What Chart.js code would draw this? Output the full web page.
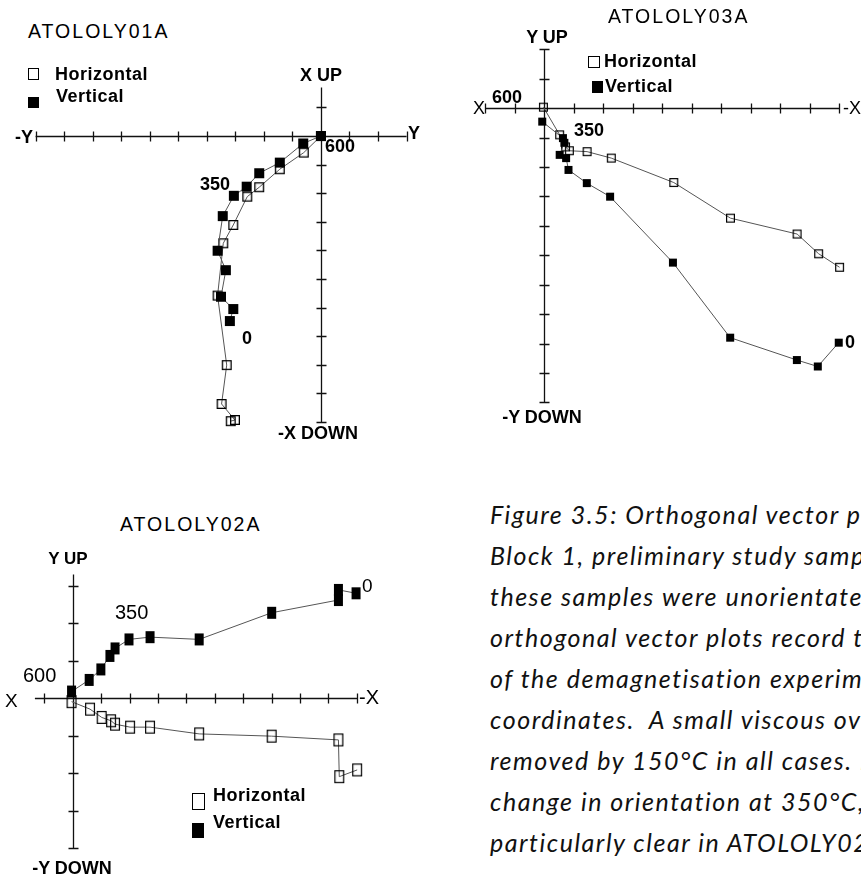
<!DOCTYPE html>
<html>
<head>
<meta charset="utf-8">
<script src="https://cdn.jsdelivr.net/npm/chart.js@4.4.0/dist/chart.umd.min.js"></script>
<style>
html,body{margin:0;padding:0;background:#fff;}
#page{position:relative;width:861px;height:875px;overflow:hidden;font-family:"Liberation Sans",Arial,sans-serif;color:#000;background:#fff;}
#page canvas{position:absolute;}
.t{position:absolute;white-space:nowrap;line-height:1;}
.box{position:absolute;box-sizing:border-box;}
#caption{position:absolute;left:490px;top:494px;font-family:Lato,sans-serif;font-style:italic;font-size:25px;line-height:41px;color:#111;white-space:nowrap;}
#probe{position:absolute;left:0;top:0;visibility:hidden;font-family:Lato,sans-serif;font-style:italic;font-size:25px;white-space:nowrap;letter-spacing:0;}
</style>
</head>
<body>
<div id="page">
  <canvas id="c1"></canvas>
  <canvas id="c2"></canvas>
  <canvas id="c3"></canvas>
  <div id="caption"></div>
  <span id="probe"></span>
</div>
<script>
// ---------------- DATA ----------------
// ATOLOLY01A (horizontal axis: -Y .. Y, vertical axis: X UP / -X DOWN), steps NRM(0) -> 600
const a01HorizX = [-3.16, -3.01, -3.48, -3.30, -3.62, -3.42, -3.07, -2.58, -2.16, -1.44, -0.60, 0];
const a01HorizY = [-9.97, -9.93, -9.37, -8.01, -5.58, -3.75, -3.11, -2.12, -1.79, -1.16, -0.58, 0];
const a01VertX  = [-3.19, -3.07, -3.50, -3.33, -3.62, -3.44, -3.05, -2.60, -2.16, -1.44, -0.62, 0];
const a01VertY  = [-6.47, -6.05, -5.62, -4.69, -4.01, -2.80, -2.09, -1.77, -1.30, -0.93, -0.26, 0];

// ATOLOLY03A (horizontal axis: X .. -X, vertical axis: Y UP / -Y DOWN)
const a03HorizX = [10.02, 9.31, 8.58, 6.32, 4.40, 2.28, 1.46, 0.86, 0.73, 0.53, -0.02];
const a03HorizY = [-5.41, -4.95, -4.28, -3.74, -2.53, -1.70, -1.48, -1.45, -1.32, -0.91, 0.03];
const a03VertX  = [9.99, 9.28, 8.57, 6.31, 4.37, 2.24, 1.45, 0.83, 0.75, 0.53, 0.69, 0.64, -0.06];
const a03VertY  = [-7.97, -8.78, -8.56, -7.80, -5.25, -3.01, -2.55, -2.10, -1.70, -1.59, -1.18, -1.02, -0.46];

// ATOLOLY02A (horizontal axis: X .. -X, vertical axis: Y UP / -Y DOWN)
const a02HorizX = [10.01, 9.38, 9.35, 7.00, 4.45, 2.72, 2.02, 1.49, 1.35, 1.02, 0.61, -0.04];
const a02HorizY = [-1.91, -2.09, -1.11, -1.01, -0.95, -0.77, -0.77, -0.69, -0.60, -0.51, -0.29, -0.09];
const a02VertX  = [9.97, 9.35, 9.35, 7.00, 4.45, 2.72, 1.98, 1.49, 1.31, 0.99, 0.58, -0.04];
const a02VertY  = [2.80, 2.89, 2.62, 2.28, 1.57, 1.63, 1.57, 1.33, 1.13, 0.77, 0.49, 0.18];

const seriesNames = ['Horizontal', 'Vertical'];
const stepLabels = ['0', '350', '600'];
const captionLines = [
  'Figure 3.5: Orthogonal vector plots',
  'Block 1, preliminary study samples',
  'these samples were unorientated',
  'orthogonal vector plots record the',
  'of the demagnetisation experiment',
  'coordinates.  A small viscous overprint',
  'removed by 150\u00B0C in all cases. Note',
  'change in orientation at 350\u00B0C,',
  'particularly clear in ATOLOLY02A'
];

// ---------------- HELPERS ----------------
const zip = (xs, ys) => xs.map((x, i) => ({x: x, y: ys[i]}));

function makeBox(w, h, filled, lw) {
  const pad = 2;
  const c = document.createElement('canvas');
  c.width = w + pad * 2; c.height = h + pad * 2;
  const g = c.getContext('2d');
  if (filled) {
    g.fillStyle = '#000';
    g.fillRect(pad, pad, w, h);
  } else {
    g.strokeStyle = '#000';
    g.lineWidth = lw;
    g.strokeRect(pad + lw / 2, pad + lw / 2, w - lw, h - lw);
  }
  return c;
}

const crossAxes = {
  id: 'crossAxes',
  beforeDatasetsDraw(chart, args, opts) {
    const ctx = chart.ctx, xs = chart.scales.x, ys = chart.scales.y;
    const x0 = Math.round(xs.getPixelForValue(0)) + 0.5;
    const y0 = Math.round(ys.getPixelForValue(0)) + 0.5;
    const tk = opts.tick;
    ctx.save();
    ctx.strokeStyle = opts.color;
    ctx.lineWidth = opts.width;
    ctx.beginPath();
    ctx.moveTo(xs.getPixelForValue(xs.min), y0);
    ctx.lineTo(xs.getPixelForValue(xs.max), y0);
    ctx.moveTo(x0, ys.getPixelForValue(ys.min));
    ctx.lineTo(x0, ys.getPixelForValue(ys.max));
    for (let v = Math.ceil(xs.min); v <= Math.floor(xs.max); v++) {
      if (v === 0) continue;
      const p = Math.round(xs.getPixelForValue(v)) + 0.5;
      ctx.moveTo(p, y0 - tk); ctx.lineTo(p, y0 + tk);
    }
    for (let v = Math.ceil(ys.min); v <= Math.floor(ys.max); v++) {
      if (v === 0) continue;
      const p = Math.round(ys.getPixelForValue(v)) + 0.5;
      ctx.moveTo(x0 - tk, p); ctx.lineTo(x0 + tk, p);
    }
    ctx.stroke();
    ctx.restore();
  }
};

function buildChart(id, plot, xr, yr, horiz, vert, hImg, vImg) {
  const cv = document.getElementById(id);
  const m = 22;
  const cl = Math.floor(plot.left - m), ct = Math.floor(plot.top - m);
  const cw = Math.ceil(plot.right + m) - cl, ch = Math.ceil(plot.bottom + m) - ct;
  cv.style.left = cl + 'px'; cv.style.top = ct + 'px';
  cv.width = cw; cv.height = ch;
  cv.style.width = cw + 'px'; cv.style.height = ch + 'px';
  return new Chart(cv, {
    type: 'scatter',
    data: {
      datasets: [
        {label: seriesNames[1], data: vert, showLine: true, borderColor: '#555', borderWidth: 1,
         pointStyle: vImg, pointRadius: 5, clip: false, order: 0},
        {label: seriesNames[0], data: horiz, showLine: true, borderColor: '#555', borderWidth: 1,
         pointStyle: hImg, pointRadius: 5, clip: false, order: 1}
      ]
    },
    options: {
      responsive: false, animation: false, devicePixelRatio: 1, events: [],
      layout: {padding: {left: plot.left - cl, right: cl + cw - plot.right, top: plot.top - ct, bottom: ct + ch - plot.bottom}},
      scales: {
        x: {type: 'linear', min: xr[0], max: xr[1], display: false},
        y: {type: 'linear', min: yr[0], max: yr[1], display: false}
      },
      plugins: {legend: {display: false}, tooltip: {enabled: false},
                crossAxes: {color: '#111', width: 1.3, tick: 5}}
    },
    plugins: [crossAxes]
  });
}

const page = document.getElementById('page');
function label(text, x, y, o) {
  o = o || {};
  const d = document.createElement('div');
  d.className = 't';
  d.textContent = text;
  d.style.left = x + 'px';
  d.style.top = y + 'px';
  d.style.fontSize = (o.size || 18) + 'px';
  d.style.fontWeight = o.bold === false ? 'normal' : 'bold';
  if (o.ls) d.style.letterSpacing = o.ls + 'px';
  const tx = o.align === 'center' ? '-50%' : (o.align === 'right' ? '-100%' : '0');
  d.style.transform = 'translate(' + tx + ',-50%)';
  page.appendChild(d);
}
function box(x, y, w, h, filled, bw) {
  const d = document.createElement('div');
  d.className = 'box';
  d.style.left = x + 'px'; d.style.top = y + 'px';
  d.style.width = w + 'px'; d.style.height = h + 'px';
  if (filled) d.style.background = '#000';
  else d.style.border = (bw || 1.3) + 'px solid #000';
  page.appendChild(d);
}

// ---------------- CHARTS ----------------
buildChart('c1', {left: 35.5, right: 406.5, top: 87.4, bottom: 422}, [-10, 3], [-10, 1.7],
  zip(a01HorizX, a01HorizY), zip(a01VertX, a01VertY), makeBox(10, 10, false, 1.3), makeBox(10, 10, true));
buildChart('c2', {left: 485, right: 839, top: 49.2, bottom: 402.4}, [-2, 10], [-10, 2],
  zip(a03HorizX, a03HorizY), zip(a03VertX, a03VertY), makeBox(9, 9, false, 1.2), makeBox(8, 8, true));
buildChart('c3', {left: 34.9, right: 356.9, top: 574.5, bottom: 848.3}, [-1.33, 10], [-4, 3.3],
  zip(a02HorizX, a02HorizY), zip(a02VertX, a02VertY), makeBox(10, 13, false, 1.2), makeBox(9, 12, true));

// ---------------- TEXT: ATOLOLY01A ----------------
label('ATOLOLY01A', 28, 32, {size: 19.5, bold: false, ls: 2});
box(28, 68, 11, 12, false);
box(28, 97, 11, 11, true);
label(seriesNames[0], 55, 74, {ls: 0.5});
label(seriesNames[1], 56, 96, {ls: 0.5});
label('X UP', 321, 75, {align: 'center'});
label('-Y', 33, 137, {align: 'right'});
label('Y', 408, 133);
label(stepLabels[2], 325, 146);
label(stepLabels[1], 200, 184);
label(stepLabels[0], 242, 338);
label('-X DOWN', 318, 433, {align: 'center'});

// ---------------- TEXT: ATOLOLY03A ----------------
label('ATOLOLY03A', 608, 17, {size: 19.5, bold: false, ls: 2});
label('Y UP', 547, 37, {align: 'center'});
box(588, 56, 12, 12, false, 1);
label(seriesNames[0], 604, 61, {ls: 0.5});
box(592, 81, 11, 12, true);
label(seriesNames[1], 605, 86, {ls: 0.5});
label('X', 473, 108, {bold: false});
label(stepLabels[2], 492, 97);
label('-X', 843, 108, {bold: false});
label(stepLabels[1], 574, 130);
label(stepLabels[0], 845, 342);
label('-Y DOWN', 542, 417, {align: 'center'});

// ---------------- TEXT: ATOLOLY02A ----------------
label('ATOLOLY02A', 120, 525, {size: 19.5, bold: false, ls: 2});
label('Y UP', 68, 558, {align: 'center', size: 17});
label(stepLabels[1], 115, 612, {bold: false, size: 20});
label(stepLabels[0], 362, 585, {bold: false, size: 19});
label(stepLabels[2], 23, 675, {bold: false, size: 20});
label('X', 5, 700, {bold: false, size: 19});
label('-X', 359, 697, {bold: false, size: 20});
box(192, 793, 13, 17, false, 1.2);
label(seriesNames[0], 213, 795, {ls: 0.5});
box(192, 823, 12, 15, true);
label(seriesNames[1], 213, 822, {ls: 0.5});
label('-Y DOWN', 72, 868, {align: 'center'});

// ---------------- CAPTION ----------------
(function () {
  const cap = document.getElementById('caption');
  const probe = document.getElementById('probe');
  const sample = 'Figure 3.5: Orthogonal vector p';
  probe.textContent = sample;
  const w = probe.getBoundingClientRect().width;
  const ls = Math.max(0, (370 - w) / (sample.length - 1));
  cap.style.letterSpacing = ls.toFixed(2) + 'px';
  probe.textContent = '';
  cap.innerHTML = captionLines.map(s => '<div>' + s.replace(/  /g, ' &nbsp;') + '</div>').join('');
})();
</script>
</body>
</html>
